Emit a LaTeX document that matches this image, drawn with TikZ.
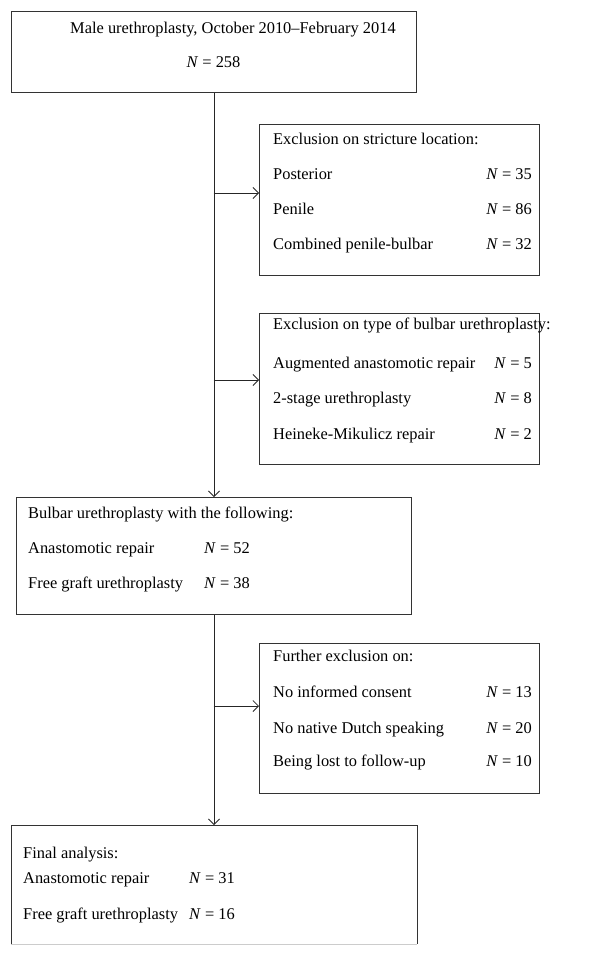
\documentclass[tikz,border=0pt]{standalone}
\usepackage{fontspec}
\setmainfont{Liberation Serif}
\usetikzlibrary{arrows.meta}

\tikzset{
	box/.style={draw=black!80, line width=1pt, anchor=north west, inner sep=0pt},
	lbl/.style={anchor=west, inner sep=0pt, text height=16pt, text depth=4pt, font=\fontsize{16.4}{20}\selectfont},
	num/.style={lbl, anchor=east},
	link/.style={draw=black!85, line width=0.75pt, -{Straight Barb[length=5.5pt,width=11pt]}}
}
\newcommand{\nval}[1]{\textit{N}~=~#1}

\begin{document}
\begin{tikzpicture}[x=1pt,y=-1pt]
	\useasboundingbox (0,0) rectangle (611,955);
	% boxes
	\node[box, minimum width=405pt, minimum height=81pt] (start) at (11,11) {};
	\node[box, minimum width=280pt, minimum height=151pt] (ex1) at (259,124) {};
	\node[box, minimum width=280pt, minimum height=151pt] (ex2) at (259,313) {};
	\node[box, minimum width=395pt, minimum height=117pt] (bulbar) at (16,497) {};
	\node[box, minimum width=280pt, minimum height=150pt] (ex3) at (259,643) {};
	\node[box, draw=none, minimum width=405pt, minimum height=118pt] (final) at (11,825) {};
	\draw[black!80, line width=1pt] (final.south west) |- (final.north east) -- (final.south east);
	\draw[black!20, line width=0.6pt] (final.south west) -- (final.south east);

	% texts
	\node[lbl] (t0) at (70,28) {Male urethroplasty, October 2010--February 2014};
	\node[lbl, anchor=center] (n0) at (213.5,62) {\nval{258}};

	\node[lbl] (t1) at (273,138) {Exclusion on stricture location:};
	\node[lbl] (t11) at (273,173) {Posterior};
	\node[lbl] (t12) at (273,208) {Penile};
	\node[lbl] (t13) at (273,243) {Combined penile-bulbar};
	\node[num] (n11) at (532,173) {\nval{35}};
	\node[num] (n12) at (532,208) {\nval{86}};
	\node[num] (n13) at (532,243) {\nval{32}};

	\node[lbl] (t2) at (273,323) {Exclusion on type of bulbar urethroplasty:};
	\node[lbl] (t21) at (273,362) {Augmented anastomotic repair};
	\node[lbl] (t22) at (273,397) {2-stage urethroplasty};
	\node[lbl] (t23) at (273,433) {Heineke-Mikulicz repair};
	\node[num] (n21) at (532,362) {\nval{5}};
	\node[num] (n22) at (532,397) {\nval{8}};
	\node[num] (n23) at (532,433) {\nval{2}};

	\node[lbl] (t3) at (28,512) {Bulbar urethroplasty with the following:};
	\node[lbl] (t31) at (28,547) {Anastomotic repair};
	\node[lbl] (t32) at (28,582) {Free graft urethroplasty};
	\node[lbl] (n31) at (204,547) {\nval{52}};
	\node[lbl] (n32) at (204,582) {\nval{38}};

	\node[lbl] (t4) at (273,655) {Further exclusion on:};
	\node[lbl] (t41) at (273,691) {No informed consent};
	\node[lbl] (t42) at (273,727) {No native Dutch speaking};
	\node[lbl] (t43) at (273,760) {Being lost to follow-up};
	\node[num] (n41) at (532,691) {\nval{13}};
	\node[num] (n42) at (532,727) {\nval{20}};
	\node[num] (n43) at (532,760) {\nval{10}};

	\node[lbl] (t5) at (23,852) {Final analysis:};
	\node[lbl] (t51) at (23,877) {Anastomotic repair};
	\node[lbl] (t52) at (23,913) {Free graft urethroplasty};
	\node[lbl] (n51) at (189,877) {\nval{31}};
	\node[lbl] (n52) at (189,913) {\nval{16}};

	% connectors
	\draw[link] (start.south) -- (bulbar.north);
	\draw[link] (bulbar.south) -- (final.north);
	\foreach \y/\b in {193/ex1, 380/ex2, 706/ex3}
		{
			\coordinate (j\b) at (213.5,\y);
			\draw[link] (j\b) -- (j\b -| \b.west);
		}
\end{tikzpicture}
\end{document}
